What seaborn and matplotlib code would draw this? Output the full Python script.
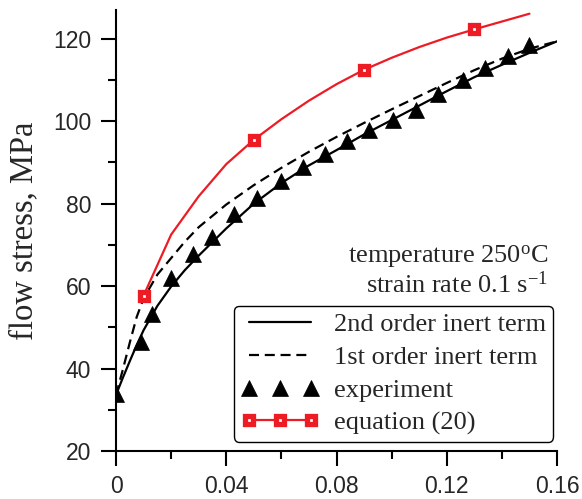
import numpy as np
import matplotlib
matplotlib.use("Agg")
import matplotlib.pyplot as plt
import seaborn as sns
from matplotlib.lines import Line2D
from matplotlib.ticker import FixedLocator, FixedFormatter, MultipleLocator

# ---- data ----
x_model = [0, 0.0025, 0.005, 0.0075, 0.01, 0.015, 0.02, 0.025, 0.03, 0.04, 0.05,
           0.06, 0.07, 0.08, 0.09, 0.10, 0.11, 0.12, 0.13, 0.14, 0.15, 0.16]
y_2nd = [33.6, 37.8, 41.8, 45.7, 49.3, 55.2, 59.9, 63.9, 67.4, 74.0, 80.0,
         85.0, 89.3, 93.0, 96.8, 100.3, 103.8, 107.3, 110.7, 113.7, 116.6, 119.4]
y_1st = [33.6, 39.8, 46.3, 52.5, 57.0, 62.8, 66.8, 70.8, 74.3, 79.8, 84.5,
         88.7, 92.6, 96.2, 99.6, 102.9, 106.1, 109.3, 112.4, 115.2, 117.6, 119.4]

x_exp = [0, 0.009, 0.0129, 0.0198, 0.0281, 0.035, 0.0429, 0.051, 0.060, 0.0677,
         0.0758, 0.0837, 0.0919, 0.1006, 0.1088, 0.117, 0.1258, 0.1339, 0.1421, 0.150]
y_exp = [33.8, 46.5, 53.3, 61.9, 67.8, 72.0, 77.5, 81.3, 85.6, 89.0,
         92.1, 95.1, 97.9, 100.3, 102.8, 106.6, 110.0, 112.9, 115.8, 118.5]

x_eq = [0.01, 0.02, 0.03, 0.04, 0.05, 0.06, 0.07, 0.08, 0.09, 0.10, 0.11, 0.12, 0.13, 0.14, 0.15]
y_eq = [57.7, 72.5, 81.8, 89.6, 95.5, 100.5, 105.0, 109.0, 112.5, 115.4, 118.0, 120.3, 122.3, 124.2, 126.1]

x_ticks = [0, 0.04, 0.08, 0.12, 0.16]
x_tick_labels = ["0", "0.04", "0.08", "0.12", "0.16"]
y_ticks = [20, 40, 60, 80, 100, 120]

labels = ["2nd order inert term", "1st order inert term", "experiment", "equation (20)"]
ylabel = "flow stress, MPa"
note1 = r"temperature 250$^{\mathrm{o}}$C"
note2 = r"strain rate 0.1 s$^{\mathrm{-1}}$"

RED = "#ED1C24"

# ---- style ----
sns.set_style("ticks")
plt.rcParams["font.family"] = ["Liberation Serif", "DejaVu Serif"]
plt.rcParams["mathtext.fontset"] = "custom"
plt.rcParams["mathtext.rm"] = "Liberation Serif"
plt.rcParams["mathtext.it"] = "Liberation Serif:italic"
plt.rcParams["mathtext.bf"] = "Liberation Serif:bold"

fig = plt.figure(figsize=(5.82, 4.99), dpi=100)
ax = fig.add_axes([116 / 582, 1 - 451 / 499, 441 / 582, 441 / 499])

sns.lineplot(x=x_model, y=y_2nd, ax=ax, color="black", lw=1.6, label=labels[0])
sns.lineplot(x=x_model, y=y_1st, ax=ax, color="black", lw=1.6, label=labels[1])
ax.lines[-1].set_dashes([4.5, 2.6])
sns.lineplot(x=x_exp, y=y_exp, ax=ax, color="black", linestyle="", marker="^",
             markersize=11, markeredgecolor="black", markeredgewidth=0.5,
             label=labels[2])
sns.lineplot(x=x_eq, y=y_eq, ax=ax, color=RED, lw=1.6, marker="s",
             markevery=[0, 4, 8, 12], markersize=6.2, markerfacecolor="white",
             markeredgecolor=RED, markeredgewidth=3.8, label=labels[3])

ax.set_xlim(0, 0.16)
ax.set_ylim(20, 127)
ax.xaxis.set_major_locator(FixedLocator(x_ticks))
ax.xaxis.set_major_formatter(FixedFormatter(x_tick_labels))
ax.xaxis.set_minor_locator(MultipleLocator(0.02))
ax.yaxis.set_major_locator(FixedLocator(y_ticks))
ax.yaxis.set_minor_locator(MultipleLocator(10))

for s in ["top", "right"]:
    ax.spines[s].set_visible(False)
for s in ["left", "bottom"]:
    ax.spines[s].set_linewidth(1.5)
    ax.spines[s].set_color("black")

ax.tick_params(which="major", direction="out", length=11, width=1.5, color="black",
               labelsize=16.5)
ax.tick_params(axis="y", which="major", pad=7)
ax.tick_params(axis="x", which="major", pad=6.5)
ax.tick_params(which="minor", direction="out", length=5.5, width=1.5, color="black")
for lab in ax.get_xticklabels() + ax.get_yticklabels():
    lab.set_family(["Liberation Sans", "DejaVu Sans"])

ax.set_xlabel("")
ax.set_ylabel(ylabel, fontsize=23.5, labelpad=10)

ax.text(0.1567, 65.6, note1, ha="right", va="baseline", fontsize=19)
ax.text(0.1567, 58.3, note2, ha="right", va="baseline", fontsize=19)

handles, _ = ax.get_legend_handles_labels()
red_proxy = Line2D([], [], color=RED, lw=1.6, marker="s", markersize=6.2,
                   markerfacecolor="white", markeredgecolor=RED, markeredgewidth=3.8)
handles = handles[:3] + [red_proxy]
leg = ax.legend(handles, labels, loc="lower right", bbox_to_anchor=(0.991, 0.021),
                numpoints=3, handlelength=2.95, fontsize=19, frameon=True,
                fancybox=True, edgecolor="black", framealpha=1,
                borderpad=0.25, labelspacing=0.36, handletextpad=0.6,
                borderaxespad=0)
leg.get_frame().set_linewidth(1.0)

fig.savefig("out.png", dpi=100)
